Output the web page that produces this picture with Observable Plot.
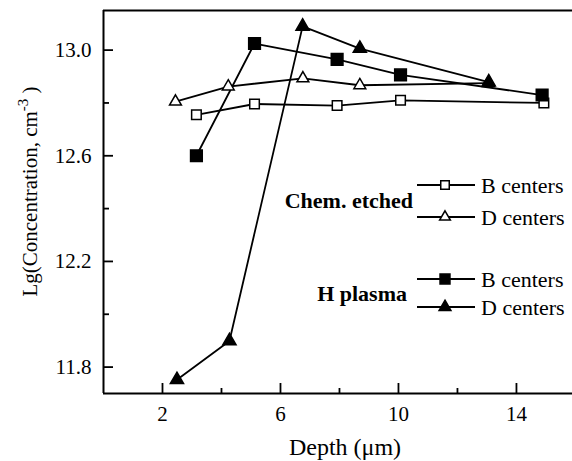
<!DOCTYPE html>
<html><head><meta charset="utf-8">
<script src="https://cdn.jsdelivr.net/npm/d3@7"></script>
<script src="https://cdn.jsdelivr.net/npm/@observablehq/plot@0.6"></script>
<style>html,body{margin:0;padding:0;background:#fff} svg{display:block}</style>
</head><body><div id="chart"></div>
<script>
// ---- data ----
const chemB_depth = [3.15, 5.12, 7.92, 10.07, 14.93];
const chemB_lg    = [12.755, 12.796, 12.79, 12.81, 12.80];
const chemD_depth = [2.44, 4.23, 6.76, 8.69, 13.05];
const chemD_lg    = [12.805, 12.862, 12.893, 12.867, 12.875];
const hB_depth    = [3.15, 5.12, 7.92, 10.07, 14.87];
const hB_lg       = [12.60, 13.025, 12.965, 12.906, 12.83];
const hD_depth    = [2.49, 4.27, 6.75, 8.69, 13.06];
const hD_lg       = [11.752, 11.899, 13.09, 13.006, 12.879];

const xMajor = [2, 6, 10, 14];
const xMinor = [4, 8, 12];
const yMajor = [11.8, 12.2, 12.6, 13.0];
const yMinor = [12.0, 12.4, 12.8];
const xDomain = [0, 15.9];
const yDomain = [11.7, 13.15];

const legendGroups = ["Chem. etched", "H plasma"];
const legendLabels = ["B centers", "D centers", "B centers", "D centers"];
const xTitle = "Depth (μm)";
const yTitle = ["Lg(Concentration, cm", "-3", " )"];

// ---- layout ----
const W = 572, H = 461, mL = 103, mT = 10, mB = 68, mR = 0;
const fw = W - mL - mR, fh = H - mT - mB;
const FONT = "'Liberation Serif', 'Times New Roman', Times, serif";

const series = [
  {depth: chemB_depth, lg: chemB_lg, symbol: "square",   fill: "white", r: 5.4, lr: 4.8},
  {depth: chemD_depth, lg: chemD_lg, symbol: "triangle", fill: "white", r: 4.4, lr: 4.0},
  {depth: hB_depth,    lg: hB_lg,    symbol: "square",   fill: "black", r: 6.6, lr: 5.6},
  {depth: hD_depth,    lg: hD_lg,    symbol: "triangle", fill: "black", r: 4.9, lr: 4.4}
];
const rowsOf = (s, k) => s.depth.map((x, i) => ({k, x, y: s.lg[i]}));
const allRows = series.flatMap((s, k) => rowsOf(s, k));

const dotMark = (s, k) => Plot.dot(rowsOf(s, k), {
  x: "x", y: "y", symbol: s.symbol, r: s.r, fill: s.fill, stroke: "black", strokeWidth: 1.5
});

const chart = Plot.plot({
  width: W, height: H,
  marginLeft: mL, marginTop: mT, marginBottom: mB, marginRight: mR,
  x: {domain: xDomain},
  y: {domain: yDomain},
  style: {fontFamily: FONT, fontSize: "21px", color: "black", background: "white", overflow: "visible"},
  marks: [
    Plot.ruleY(yDomain, {stroke: "black", strokeWidth: 2}),
    Plot.ruleX([xDomain[0]], {stroke: "black", strokeWidth: 2}),
    Plot.tickX(xMajor, {x: d => d, insetTop: fh - 10, stroke: "black", strokeWidth: 1.8}),
    Plot.tickX(xMinor, {x: d => d, insetTop: fh - 5, stroke: "black", strokeWidth: 1.8}),
    Plot.tickY(yMajor, {y: d => d, insetRight: fw - 10, stroke: "black", strokeWidth: 1.8}),
    Plot.tickY(yMinor, {y: d => d, insetRight: fw - 6, stroke: "black", strokeWidth: 1.8}),
    Plot.axisX(xMajor, {tickSize: 0, tickPadding: 13, label: null, tickFormat: d => String(d)}),
    Plot.axisY(yMajor, {tickSize: 0, tickPadding: 12, label: null, tickFormat: d => d.toFixed(1)}),
    Plot.text([xTitle], {text: d => d, frameAnchor: "bottom", dx: 7, dy: 54, lineAnchor: "middle", fontSize: 24}),
    Plot.line(allRows, {x: "x", y: "y", z: "k", stroke: "black", strokeWidth: 1.8}),
    dotMark(series[0], 0),
    dotMark(series[1], 1),
    dotMark(series[2], 2),
    dotMark(series[3], 3)
  ]
});
document.getElementById("chart").appendChild(chart);

// ---- y title with superscript ----
const svg = d3.select(chart);
const yl = svg.append("text")
  .attr("transform", "translate(30,191.5) rotate(-90)")
  .attr("text-anchor", "middle").attr("dy", "0.35em")
  .style("font-family", FONT).style("font-size", "21px").attr("fill", "black");
yl.append("tspan").text(yTitle[0]);
yl.append("tspan").attr("dy", -9).style("font-size", "15px").text(yTitle[1]);
yl.append("tspan").attr("dy", 9).text(yTitle[2]);

// ---- in-plot legend ----
const rowY = [185, 217, 279, 307];
const lg = svg.append("g").attr("fill", "black");
legendLabels.forEach((lab, i) => {
  const s = series[i];
  lg.append("line").attr("x1", 417).attr("x2", 475).attr("y1", rowY[i]).attr("y2", rowY[i])
    .attr("stroke", "black").attr("stroke-width", 1.8);
  lg.append("path")
    .attr("d", d3.symbol(s.symbol === "square" ? d3.symbolSquare : d3.symbolTriangle, Math.PI * s.lr * s.lr)())
    .attr("transform", `translate(445,${rowY[i]})`)
    .attr("fill", s.fill).attr("stroke", "black").attr("stroke-width", 1.5);
  lg.append("text").attr("x", 481).attr("y", rowY[i]).attr("dy", "0.35em")
    .attr("text-anchor", "start")
    .style("font-family", FONT).style("font-size", "22px").style("font-weight", "normal")
    .text(lab);
});
const groupPos = [[413, 200], [407, 293]];
legendGroups.forEach((g, i) => {
  lg.append("text").attr("x", groupPos[i][0]).attr("y", groupPos[i][1]).attr("dy", "0.35em")
    .attr("text-anchor", "end")
    .style("font-family", FONT).style("font-size", "22px").style("font-weight", "bold")
    .text(g);
});
</script>
</body></html>
